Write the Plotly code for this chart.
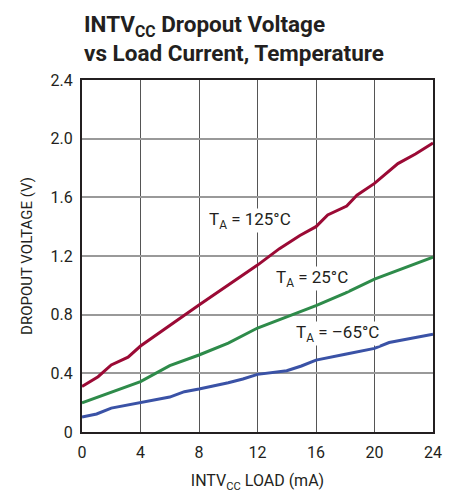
import plotly.graph_objects as go

load_125 = [0, 1.1, 2.0, 3.15, 4, 8, 12, 13.5, 14.9, 16, 16.8, 18.1, 18.8, 20, 21.6, 22.8, 24]
v_125 = [0.31, 0.377, 0.457, 0.51, 0.586, 0.866, 1.138, 1.25, 1.34, 1.40, 1.48, 1.54, 1.615, 1.695, 1.83, 1.895, 1.97]

load_25 = [0, 4, 6, 8, 10, 12, 16, 18, 20, 24]
v_25 = [0.198, 0.343, 0.452, 0.525, 0.606, 0.709, 0.861, 0.947, 1.043, 1.193]

load_m65 = [0, 1, 2, 4, 6, 7, 8, 10, 11, 12, 14, 15, 16, 18, 20, 21, 22, 24]
v_m65 = [0.102, 0.123, 0.163, 0.198, 0.238, 0.275, 0.293, 0.336, 0.361, 0.393, 0.418, 0.45, 0.49, 0.53, 0.57, 0.61, 0.627, 0.666]

x_ticks = [0, 4, 8, 12, 16, 20, 24]
y_ticks = [0, 0.4, 0.8, 1.2, 1.6, 2.0, 2.4]
y_ticktext = ["0", "0.4", "0.8", "1.2", "1.6", "2.0", "2.4"]

labels = ["T<sub>A</sub> = 125°C", "T<sub>A</sub> = 25°C", "T<sub>A</sub> = –65°C"]
label_x = [11.5, 15.7, 17.5]
label_y = [1.445, 1.05, 0.675]

FONT = "Roboto, Liberation Sans, sans-serif"
TXT = "#231f20"

fig = go.Figure()
for xs, ys, col in [(load_125, v_125, "#9b0a35"), (load_25, v_25, "#2e8b4a"), (load_m65, v_m65, "#3a52a6")]:
    fig.add_trace(go.Scatter(x=xs, y=ys, mode="lines", line=dict(color=col, width=3), showlegend=False))

for t, lx, ly in zip(labels, label_x, label_y):
    fig.add_annotation(x=lx, y=ly, text=t, showarrow=False, xref="x", yref="y",
                       font=dict(family=FONT, size=17, color=TXT), bgcolor="white", borderpad=0)

fig.add_annotation(x=0, y=1, xref="paper", yref="paper", xanchor="left", yanchor="bottom",
                   yshift=12, align="left", showarrow=False,
                   text="<b>INTV<sub>CC</sub> Dropout Voltage<br>vs Load Current, Temperature</b>",
                   font=dict(family=FONT, size=22.5, color=TXT))

fig.update_layout(
    width=461, height=492,
    margin=dict(l=74, r=36, t=72, b=68),
    paper_bgcolor="white", plot_bgcolor="white",
    font=dict(family=FONT, color=TXT),
    xaxis=dict(range=[0, 24], tickvals=x_ticks, ticks="", showgrid=True, gridcolor="#555555", gridwidth=1.2,
               zeroline=False, showline=True, linecolor="#231f20", linewidth=2, mirror=True,
               tickfont=dict(family=FONT, size=16, color=TXT), ticklabelstandoff=5,
               title=dict(text="INTV<sub>CC</sub> LOAD (mA)", font=dict(family=FONT, size=16, color=TXT), standoff=14)),
    yaxis=dict(range=[0, 2.4], tickvals=y_ticks, ticktext=y_ticktext, ticks="", showgrid=True,
               gridcolor="#999999", gridwidth=1.5, zeroline=False, showline=True, linecolor="#231f20",
               linewidth=2, mirror=True, tickfont=dict(family=FONT, size=16, color=TXT), ticklabelstandoff=4,
               title=dict(text="DROPOUT VOLTAGE (V)", font=dict(family=FONT, size=15, color=TXT), standoff=14)),
)

fig.write_html("out.html")
